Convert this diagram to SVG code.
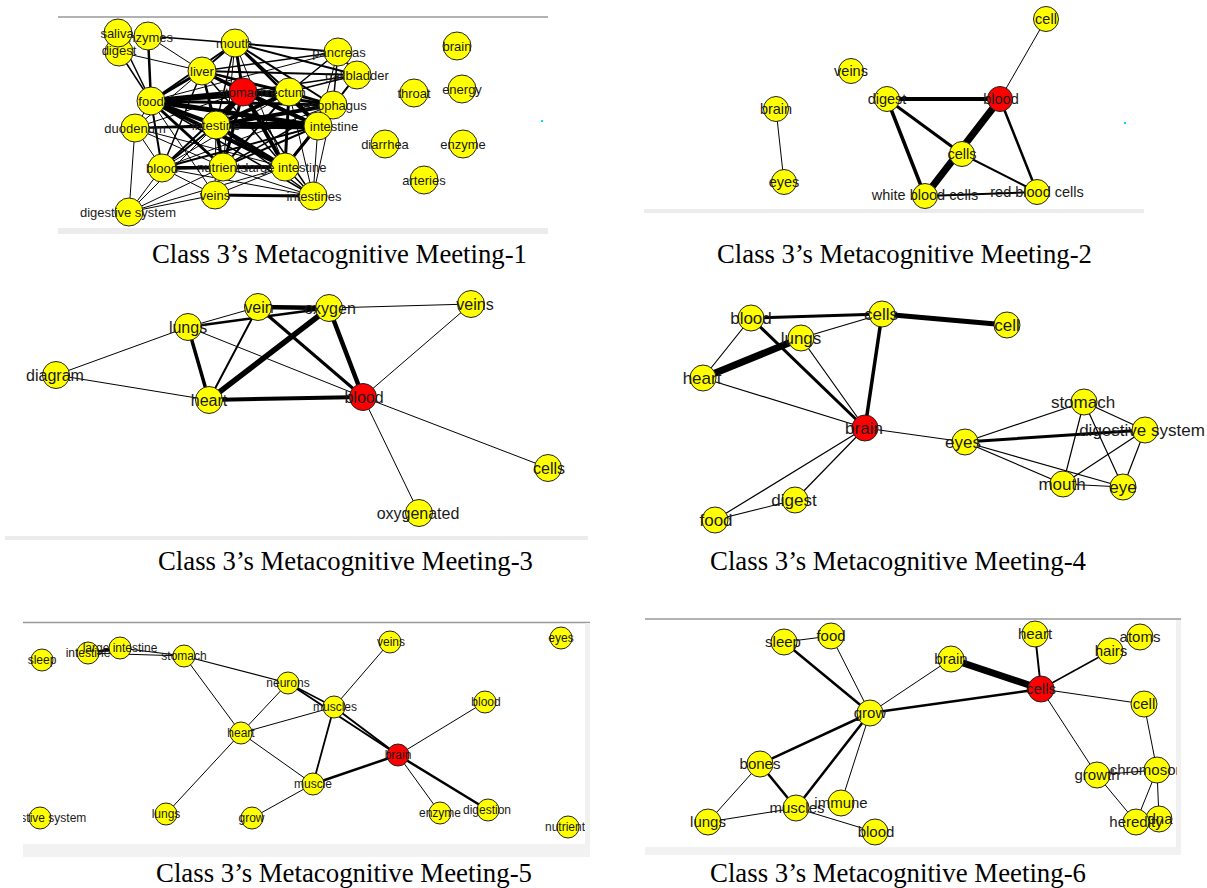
<svg xmlns="http://www.w3.org/2000/svg" width="1207" height="888" viewBox="0 0 1207 888">
<style>
.n{fill:#ffff00;stroke:#222;stroke-width:1}
.r{fill:#ff0000;stroke:#222;stroke-width:1}
.e line{stroke:#000;stroke-linecap:round}
text{font-family:"Liberation Sans",Arial,sans-serif;fill:#1a1a1a;text-anchor:middle}
.f1{font-size:13px}.f2{font-size:14.5px}.f3{font-size:16px}.f4{font-size:17px}.f5{font-size:12px}.f6{font-size:15px}
.cap{font-family:"Liberation Serif","Times New Roman",serif;font-size:26.5px;fill:#000;text-anchor:start}
.band{fill:#ececec}
.tl{stroke:#999;stroke-width:1.5}
</style>
<defs>
<clipPath id="c5"><rect x="23" y="610" width="562" height="250"/></clipPath>
<clipPath id="c6"><rect x="645" y="610" width="532" height="250"/></clipPath>
</defs>
<rect width="1207" height="888" fill="#fff"/>

<!-- frames -->
<g id="frames">
<line class="tl" x1="58" y1="17" x2="548" y2="17"/>
<rect class="band" x="58" y="228" width="490" height="6"/>
<rect class="band" x="644" y="209" width="500" height="4"/>
<rect class="band" x="5" y="536" width="583" height="4"/>
<line class="tl" x1="23" y1="622.5" x2="590" y2="622.5"/>
<rect fill="#f1f1f1" x="585" y="623" width="5" height="234"/>
<rect fill="#f2f2f2" x="23" y="844" width="567" height="13"/>
<line class="tl" x1="645" y1="619" x2="1181" y2="619" stroke="#aaa"/>
<rect fill="#f1f1f1" x="1176" y="620" width="5" height="235"/>
<rect fill="#f2f2f2" x="645" y="847" width="536" height="8"/>
<rect fill="#00e0ff" x="541" y="120" width="2" height="2"/>
<rect fill="#00e0ff" x="1124" y="122" width="2" height="2"/>
</g>

<!-- connectors -->
<g id="connectors" class="e">
<!-- panel 1 -->
<line x1="151" y1="101" x2="243" y2="92" stroke-width="5"/>
<line x1="151" y1="101" x2="289" y2="92" stroke-width="4"/>
<line x1="151" y1="101" x2="318" y2="126" stroke-width="5"/>
<line x1="243" y1="92" x2="318" y2="126" stroke-width="4"/>
<line x1="216" y1="125" x2="318" y2="126" stroke-width="7"/>
<line x1="216" y1="125" x2="333" y2="105" stroke-width="4"/>
<line x1="216" y1="125" x2="289" y2="92" stroke-width="4"/>
<line x1="202" y1="71" x2="318" y2="126" stroke-width="3"/>
<line x1="202" y1="71" x2="243" y2="92" stroke-width="3"/>
<line x1="151" y1="101" x2="216" y2="125" stroke-width="4"/>
<line x1="151" y1="101" x2="285" y2="167" stroke-width="4"/>
<line x1="151" y1="101" x2="223" y2="167" stroke-width="3"/>
<line x1="243" y1="92" x2="285" y2="167" stroke-width="4"/>
<line x1="243" y1="92" x2="223" y2="167" stroke-width="3"/>
<line x1="216" y1="125" x2="285" y2="167" stroke-width="4"/>
<line x1="216" y1="125" x2="223" y2="167" stroke-width="3"/>
<line x1="289" y1="92" x2="285" y2="167" stroke-width="3"/>
<line x1="235" y1="43" x2="243" y2="92" stroke-width="3"/>
<line x1="235" y1="43" x2="318" y2="126" stroke-width="2.5"/>
<line x1="202" y1="71" x2="151" y2="101" stroke-width="3"/>
<line x1="162" y1="168" x2="285" y2="167" stroke-width="3.5"/>
<line x1="162" y1="168" x2="223" y2="167" stroke-width="3"/>
<line x1="162" y1="168" x2="216" y2="125" stroke-width="2"/>
<line x1="162" y1="168" x2="243" y2="92" stroke-width="2"/>
<line x1="215" y1="195" x2="313" y2="196" stroke-width="3"/>
<line x1="151" y1="101" x2="333" y2="105" stroke-width="3"/>
<line x1="243" y1="92" x2="333" y2="105" stroke-width="3"/>
<line x1="151" y1="101" x2="162" y2="168" stroke-width="2"/>
<line x1="135" y1="128" x2="216" y2="125" stroke-width="2"/>
<line x1="135" y1="128" x2="318" y2="126" stroke-width="1.5"/>
<line x1="235" y1="43" x2="289" y2="92" stroke-width="2"/>
<line x1="235" y1="43" x2="338" y2="52" stroke-width="2"/>
<line x1="235" y1="43" x2="357" y2="75" stroke-width="2"/>
<line x1="235" y1="43" x2="333" y2="105" stroke-width="2"/>
<line x1="202" y1="71" x2="357" y2="75" stroke-width="2"/>
<line x1="202" y1="71" x2="338" y2="52" stroke-width="1.5"/>
<line x1="202" y1="71" x2="289" y2="92" stroke-width="2"/>
<line x1="202" y1="71" x2="333" y2="105" stroke-width="2"/>
<line x1="243" y1="92" x2="357" y2="75" stroke-width="1.5"/>
<line x1="289" y1="92" x2="338" y2="52" stroke-width="1.5"/>
<line x1="289" y1="92" x2="357" y2="75" stroke-width="1.5"/>
<line x1="289" y1="92" x2="333" y2="105" stroke-width="2"/>
<line x1="338" y1="52" x2="333" y2="105" stroke-width="1.5"/>
<line x1="357" y1="75" x2="333" y2="105" stroke-width="1.5"/>
<line x1="338" y1="52" x2="357" y2="75" stroke-width="2"/>
<line x1="285" y1="167" x2="318" y2="126" stroke-width="3"/>
<line x1="285" y1="167" x2="333" y2="105" stroke-width="2"/>
<line x1="223" y1="167" x2="318" y2="126" stroke-width="2"/>
<line x1="223" y1="167" x2="285" y2="167" stroke-width="3"/>
<line x1="216" y1="125" x2="243" y2="92" stroke-width="5"/>
<line x1="216" y1="125" x2="202" y2="71" stroke-width="2"/>
<line x1="216" y1="125" x2="235" y2="43" stroke-width="1.5"/>
<line x1="118" y1="33" x2="151" y2="101" stroke-width="1.5"/>
<line x1="119" y1="52" x2="151" y2="101" stroke-width="1.5"/>
<line x1="119" y1="52" x2="202" y2="71" stroke-width="1"/>
<line x1="148" y1="36" x2="151" y2="101" stroke-width="2.5"/>
<line x1="148" y1="36" x2="235" y2="43" stroke-width="1.5"/>
<line x1="148" y1="36" x2="202" y2="71" stroke-width="1"/>
<line x1="135" y1="128" x2="151" y2="101" stroke-width="1"/>
<line x1="135" y1="128" x2="162" y2="168" stroke-width="1"/>
<line x1="135" y1="128" x2="129" y2="212" stroke-width="1"/>
<line x1="135" y1="128" x2="202" y2="71" stroke-width="1"/>
<line x1="135" y1="128" x2="243" y2="92" stroke-width="1"/>
<line x1="135" y1="128" x2="223" y2="167" stroke-width="1"/>
<line x1="135" y1="128" x2="285" y2="167" stroke-width="1"/>
<line x1="162" y1="168" x2="215" y2="195" stroke-width="1"/>
<line x1="162" y1="168" x2="313" y2="196" stroke-width="1"/>
<line x1="162" y1="168" x2="129" y2="212" stroke-width="1"/>
<line x1="129" y1="212" x2="215" y2="195" stroke-width="1"/>
<line x1="129" y1="212" x2="223" y2="167" stroke-width="1"/>
<line x1="129" y1="212" x2="285" y2="167" stroke-width="1"/>
<line x1="129" y1="212" x2="216" y2="125" stroke-width="1"/>
<line x1="215" y1="195" x2="285" y2="167" stroke-width="1"/>
<line x1="215" y1="195" x2="223" y2="167" stroke-width="1"/>
<line x1="215" y1="195" x2="216" y2="125" stroke-width="1"/>
<line x1="215" y1="195" x2="243" y2="92" stroke-width="1"/>
<line x1="223" y1="167" x2="313" y2="196" stroke-width="1"/>
<line x1="285" y1="167" x2="313" y2="196" stroke-width="1.5"/>
<line x1="318" y1="126" x2="313" y2="196" stroke-width="1"/>
<line x1="216" y1="125" x2="313" y2="196" stroke-width="1.5"/>
<line x1="243" y1="92" x2="313" y2="196" stroke-width="1.5"/>
<line x1="333" y1="105" x2="313" y2="196" stroke-width="1"/>
<line x1="289" y1="92" x2="313" y2="196" stroke-width="1"/>
<line x1="151" y1="101" x2="313" y2="196" stroke-width="1.5"/>
<line x1="151" y1="101" x2="215" y2="195" stroke-width="1"/>
<line x1="151" y1="101" x2="235" y2="43" stroke-width="2"/>
<line x1="202" y1="71" x2="235" y2="43" stroke-width="2"/>
<line x1="202" y1="71" x2="162" y2="168" stroke-width="1.5"/>
<line x1="202" y1="71" x2="223" y2="167" stroke-width="1.5"/>
<line x1="202" y1="71" x2="285" y2="167" stroke-width="1.5"/>
<line x1="235" y1="43" x2="285" y2="167" stroke-width="1"/>
<line x1="235" y1="43" x2="223" y2="167" stroke-width="1"/>
<line x1="162" y1="168" x2="289" y2="92" stroke-width="1"/>
<line x1="162" y1="168" x2="333" y2="105" stroke-width="1"/>
<line x1="338" y1="52" x2="318" y2="126" stroke-width="1"/>
<line x1="357" y1="75" x2="318" y2="126" stroke-width="1.5"/>
<line x1="338" y1="52" x2="151" y2="101" stroke-width="1"/>
<line x1="243" y1="92" x2="289" y2="92" stroke-width="3"/>
<line x1="289" y1="92" x2="318" y2="126" stroke-width="3"/>
<line x1="162" y1="168" x2="318" y2="126" stroke-width="2"/>
<line x1="223" y1="167" x2="289" y2="92" stroke-width="2"/>
<line x1="223" y1="167" x2="333" y2="105" stroke-width="1.5"/>
<!-- panel 2 -->
<line x1="776" y1="109" x2="784" y2="182" stroke-width="1"/>
<line x1="1046" y1="19" x2="1000" y2="99" stroke-width="1"/>
<line x1="887" y1="99" x2="1000" y2="99" stroke-width="4"/>
<line x1="887" y1="99" x2="962" y2="154" stroke-width="3"/>
<line x1="887" y1="99" x2="925" y2="196" stroke-width="3.5"/>
<line x1="1000" y1="99" x2="925" y2="196" stroke-width="7"/>
<line x1="1000" y1="99" x2="1037" y2="192" stroke-width="2.5"/>
<line x1="962" y1="154" x2="1037" y2="192" stroke-width="2"/>
<line x1="925" y1="196" x2="1037" y2="192" stroke-width="2"/>
<!-- panel 3 -->
<line x1="258" y1="307" x2="329" y2="308" stroke-width="4.5"/>
<line x1="188" y1="327" x2="258" y2="307" stroke-width="1"/>
<line x1="188" y1="327" x2="329" y2="308" stroke-width="2.5"/>
<line x1="188" y1="327" x2="209" y2="400" stroke-width="3.5"/>
<line x1="188" y1="327" x2="56" y2="375" stroke-width="1"/>
<line x1="188" y1="327" x2="363" y2="397" stroke-width="1"/>
<line x1="258" y1="307" x2="209" y2="400" stroke-width="2"/>
<line x1="258" y1="307" x2="363" y2="397" stroke-width="3"/>
<line x1="329" y1="308" x2="209" y2="400" stroke-width="5.5"/>
<line x1="329" y1="308" x2="363" y2="397" stroke-width="4.5"/>
<line x1="329" y1="308" x2="471" y2="304" stroke-width="1"/>
<line x1="471" y1="304" x2="363" y2="397" stroke-width="1"/>
<line x1="56" y1="375" x2="209" y2="400" stroke-width="1"/>
<line x1="209" y1="400" x2="363" y2="397" stroke-width="4"/>
<line x1="363" y1="397" x2="548" y2="468" stroke-width="1"/>
<line x1="363" y1="397" x2="419" y2="513" stroke-width="1"/>
<!-- panel 4 -->
<line x1="751" y1="318" x2="882" y2="314" stroke-width="3"/>
<line x1="882" y1="314" x2="1007" y2="325" stroke-width="5"/>
<line x1="801" y1="338" x2="882" y2="314" stroke-width="1.2"/>
<line x1="751" y1="318" x2="703" y2="378" stroke-width="1.2"/>
<line x1="703" y1="378" x2="801" y2="338" stroke-width="7"/>
<line x1="751" y1="318" x2="865" y2="428" stroke-width="3"/>
<line x1="801" y1="338" x2="865" y2="428" stroke-width="1.2"/>
<line x1="882" y1="314" x2="865" y2="428" stroke-width="3.5"/>
<line x1="703" y1="378" x2="865" y2="428" stroke-width="1.2"/>
<line x1="865" y1="428" x2="965" y2="442" stroke-width="1.2"/>
<line x1="865" y1="428" x2="715" y2="520" stroke-width="1.2"/>
<line x1="865" y1="428" x2="795" y2="500" stroke-width="1.2"/>
<line x1="715" y1="520" x2="795" y2="500" stroke-width="1.2"/>
<line x1="965" y1="442" x2="1084" y2="402" stroke-width="1.2"/>
<line x1="965" y1="442" x2="1145" y2="430" stroke-width="3"/>
<line x1="965" y1="442" x2="1063" y2="484" stroke-width="1.2"/>
<line x1="965" y1="442" x2="1123" y2="487" stroke-width="1.2"/>
<line x1="1084" y1="402" x2="1145" y2="430" stroke-width="1.2"/>
<line x1="1084" y1="402" x2="1063" y2="484" stroke-width="1.2"/>
<line x1="1084" y1="402" x2="1123" y2="487" stroke-width="1.2"/>
<line x1="1145" y1="430" x2="1063" y2="484" stroke-width="1.2"/>
<line x1="1145" y1="430" x2="1123" y2="487" stroke-width="1.2"/>
<line x1="1063" y1="484" x2="1123" y2="487" stroke-width="1.2"/>
<!-- panel 5 -->
<line x1="88" y1="653" x2="120" y2="648" stroke-width="2.5"/>
<line x1="88" y1="653" x2="184" y2="656" stroke-width="1"/>
<line x1="120" y1="648" x2="184" y2="656" stroke-width="1.2"/>
<line x1="184" y1="656" x2="288" y2="683" stroke-width="1.2"/>
<line x1="184" y1="656" x2="241" y2="733" stroke-width="1"/>
<line x1="288" y1="683" x2="241" y2="733" stroke-width="1"/>
<line x1="288" y1="683" x2="334" y2="707" stroke-width="1.5"/>
<line x1="288" y1="683" x2="398" y2="755" stroke-width="2"/>
<line x1="334" y1="707" x2="398" y2="755" stroke-width="2"/>
<line x1="241" y1="733" x2="334" y2="707" stroke-width="1"/>
<line x1="241" y1="733" x2="313" y2="784" stroke-width="1"/>
<line x1="241" y1="733" x2="166" y2="814" stroke-width="1"/>
<line x1="390" y1="642" x2="334" y2="707" stroke-width="1"/>
<line x1="334" y1="707" x2="313" y2="784" stroke-width="1.8"/>
<line x1="313" y1="784" x2="398" y2="755" stroke-width="2.5"/>
<line x1="313" y1="784" x2="252" y2="818" stroke-width="1"/>
<line x1="398" y1="755" x2="485" y2="702" stroke-width="1"/>
<line x1="398" y1="755" x2="440" y2="813" stroke-width="1"/>
<line x1="398" y1="755" x2="488" y2="810" stroke-width="2.5"/>
<!-- panel 6 -->
<line x1="784" y1="642" x2="831" y2="636" stroke-width="1"/>
<line x1="784" y1="642" x2="870" y2="713" stroke-width="2.5"/>
<line x1="831" y1="636" x2="870" y2="713" stroke-width="1"/>
<line x1="951" y1="659" x2="870" y2="713" stroke-width="1"/>
<line x1="951" y1="659" x2="1041" y2="689" stroke-width="7"/>
<line x1="1035" y1="634" x2="1041" y2="689" stroke-width="2"/>
<line x1="1110" y1="651" x2="1041" y2="689" stroke-width="1.5"/>
<line x1="1041" y1="689" x2="1144" y2="704" stroke-width="1"/>
<line x1="1041" y1="689" x2="870" y2="713" stroke-width="2.5"/>
<line x1="1041" y1="689" x2="1097" y2="775" stroke-width="1"/>
<line x1="1144" y1="704" x2="1157" y2="770" stroke-width="1"/>
<line x1="1097" y1="775" x2="1157" y2="770" stroke-width="1.2"/>
<line x1="1097" y1="775" x2="1136" y2="822" stroke-width="1"/>
<line x1="1157" y1="770" x2="1136" y2="822" stroke-width="1"/>
<line x1="1157" y1="770" x2="1159" y2="819" stroke-width="1"/>
<line x1="870" y1="713" x2="760" y2="764" stroke-width="2.5"/>
<line x1="870" y1="713" x2="796" y2="808" stroke-width="2.5"/>
<line x1="870" y1="713" x2="841" y2="803" stroke-width="1"/>
<line x1="760" y1="764" x2="796" y2="808" stroke-width="2.5"/>
<line x1="760" y1="764" x2="708" y2="822" stroke-width="1"/>
<line x1="708" y1="822" x2="796" y2="808" stroke-width="1"/>
<line x1="796" y1="808" x2="875" y2="832" stroke-width="1"/>
</g>

<!-- panel 1 nodes -->
<g id="p1" class="f1">
<g id="p1-enzymes"><circle class="n" cx="148" cy="36" r="14"/><text x="147" y="41.5">enzymes</text></g>
<g id="p1-digest"><circle class="n" cx="119" cy="52" r="14"/><text x="119" y="55">digest</text></g>
<g id="p1-saliva"><circle class="n" cx="118" cy="33" r="14"/><text x="117" y="37.5">saliva</text></g>
<g id="p1-mouth"><circle class="n" cx="235" cy="43" r="14"/><text x="234" y="47.5">mouth</text></g>
<g id="p1-pancreas"><circle class="n" cx="338" cy="52" r="14"/><text x="339" y="56.5">pancreas</text></g>
<g id="p1-gallbladder"><circle class="n" cx="357" cy="75" r="14"/><text x="357" y="79.5">gallbladder</text></g>
<g id="p1-liver"><circle class="n" cx="202" cy="71" r="14"/><text x="202" y="75.5">liver</text></g>
<g id="p1-food"><circle class="n" cx="151" cy="101" r="14"/><text x="151" y="105.5">food</text></g>
<g id="p1-stomach"><circle class="r" cx="243" cy="92" r="14"/><text x="243" y="96.5">stomach</text></g>
<g id="p1-rectum"><circle class="n" cx="289" cy="92" r="14"/><text x="286" y="96.5">rectum</text></g>
<g id="p1-esophagus"><circle class="n" cx="333" cy="105" r="14"/><text x="335" y="109.5">esophagus</text></g>
<g id="p1-intestine-r"><circle class="n" cx="318" cy="126" r="14"/><text x="334" y="130.5">intestine</text></g>
<g id="p1-duodenum"><circle class="n" cx="135" cy="128" r="14"/><text x="135" y="132.5">duodenum</text></g>
<g id="p1-intestine-c"><circle class="n" cx="216" cy="125" r="14"/><text x="216" y="129.5">intestine</text></g>
<g id="p1-blood"><circle class="n" cx="162" cy="168" r="14"/><text x="162" y="172.5">blood</text></g>
<g id="p1-nutrients"><circle class="n" cx="223" cy="167" r="14"/><text x="222" y="171.5">nutrients</text></g>
<g id="p1-large-intestine"><circle class="n" cx="285" cy="167" r="14"/><text x="286" y="171.5">large intestine</text></g>
<g id="p1-veins"><circle class="n" cx="215" cy="195" r="14"/><text x="215" y="199.5">veins</text></g>
<g id="p1-intestines"><circle class="n" cx="313" cy="196" r="14"/><text x="314" y="200.5">intestines</text></g>
<g id="p1-digestive-system"><circle class="n" cx="129" cy="212" r="14"/><text x="128" y="216.5">digestive system</text></g>
<g id="p1-brain"><circle class="n" cx="457" cy="46" r="14"/><text x="457" y="50.5">brain</text></g>
<g id="p1-throat"><circle class="n" cx="414" cy="93" r="14"/><text x="414" y="97.5">throat</text></g>
<g id="p1-energy"><circle class="n" cx="462" cy="89" r="14"/><text x="462" y="93.5">energy</text></g>
<g id="p1-diarrhea"><circle class="n" cx="385" cy="144" r="14"/><text x="385" y="148.5">diarrhea</text></g>
<g id="p1-enzyme"><circle class="n" cx="463" cy="144" r="14"/><text x="463" y="148.5">enzyme</text></g>
<g id="p1-arteries"><circle class="n" cx="424" cy="180" r="14"/><text x="424" y="184.5">arteries</text></g>
</g>

<!-- panel 2 nodes -->
<g id="p2" class="f2">
<g id="p2-cell"><circle class="n" cx="1046" cy="19" r="12.5"/><text x="1046" y="24">cell</text></g>
<g id="p2-veins"><circle class="n" cx="851" cy="71" r="12.5"/><text x="851" y="76">veins</text></g>
<g id="p2-digest"><circle class="n" cx="887" cy="99" r="12.5"/><text x="887" y="104">digest</text></g>
<g id="p2-blood"><circle class="r" cx="1000" cy="99" r="12.5"/><text x="1001" y="104">blood</text></g>
<g id="p2-brain"><circle class="n" cx="776" cy="109" r="12.5"/><text x="776" y="114">brain</text></g>
<g id="p2-cells"><circle class="n" cx="962" cy="154" r="12.5"/><text x="962" y="159">cells</text></g>
<g id="p2-eyes"><circle class="n" cx="784" cy="182" r="12.5"/><text x="784" y="187">eyes</text></g>
<g id="p2-white-blood-cells"><circle class="n" cx="925" cy="196" r="12.5"/><text x="925" y="200">white blood cells</text></g>
<g id="p2-red-blood-cells"><circle class="n" cx="1037" cy="192" r="12.5"/><text x="1037" y="197">red blood cells</text></g>
</g>

<!-- panel 3 nodes -->
<g id="p3" class="f3">
<g id="p3-lungs"><circle class="n" cx="188" cy="327" r="13.5"/><text x="188" y="332.5">lungs</text></g>
<g id="p3-vein"><circle class="n" cx="258" cy="307" r="13.5"/><text x="259" y="312.5">vein</text></g>
<g id="p3-oxygen"><circle class="n" cx="329" cy="308" r="13.5"/><text x="330" y="313.5">oxygen</text></g>
<g id="p3-veins"><circle class="n" cx="471" cy="304" r="13.5"/><text x="475" y="309.5">veins</text></g>
<g id="p3-diagram"><circle class="n" cx="56" cy="375" r="13.5"/><text x="55" y="380.5">diagram</text></g>
<g id="p3-heart"><circle class="n" cx="209" cy="400" r="13.5"/><text x="209" y="405.5">heart</text></g>
<g id="p3-blood"><circle class="r" cx="363" cy="397" r="13.5"/><text x="364" y="402.5">blood</text></g>
<g id="p3-cells"><circle class="n" cx="548" cy="468" r="13.5"/><text x="549" y="473.5">cells</text></g>
<g id="p3-oxygenated"><circle class="n" cx="419" cy="513" r="13.5"/><text x="418" y="518.5">oxygenated</text></g>
</g>

<!-- panel 4 nodes -->
<g id="p4" class="f4">
<g id="p4-blood"><circle class="n" cx="751" cy="318" r="13"/><text x="751" y="324">blood</text></g>
<g id="p4-cells"><circle class="n" cx="882" cy="314" r="13"/><text x="881" y="320">cells</text></g>
<g id="p4-cell"><circle class="n" cx="1007" cy="325" r="13"/><text x="1007" y="331">cell</text></g>
<g id="p4-lungs"><circle class="n" cx="801" cy="338" r="13"/><text x="801" y="344">lungs</text></g>
<g id="p4-heart"><circle class="n" cx="703" cy="378" r="13"/><text x="702" y="384">heart</text></g>
<g id="p4-brain"><circle class="r" cx="865" cy="428" r="13"/><text x="864" y="434">brain</text></g>
<g id="p4-eyes"><circle class="n" cx="965" cy="442" r="13"/><text x="963" y="448">eyes</text></g>
<g id="p4-stomach"><circle class="n" cx="1084" cy="402" r="13"/><text x="1083" y="408">stomach</text></g>
<g id="p4-digestive-system"><circle class="n" cx="1145" cy="430" r="13"/><text x="1142" y="436">digestive system</text></g>
<g id="p4-mouth"><circle class="n" cx="1063" cy="484" r="13"/><text x="1062" y="490">mouth</text></g>
<g id="p4-eye"><circle class="n" cx="1123" cy="487" r="13"/><text x="1123" y="493">eye</text></g>
<g id="p4-digest"><circle class="n" cx="795" cy="500" r="13"/><text x="794" y="506">digest</text></g>
<g id="p4-food"><circle class="n" cx="715" cy="520" r="13"/><text x="716" y="526">food</text></g>
</g>

<!-- panel 5 nodes -->
<g id="p5" class="f5" clip-path="url(#c5)">
<g id="p5-sleep"><circle class="n" cx="42" cy="660" r="11"/><text x="42" y="664">sleep</text></g>
<g id="p5-intestine"><circle class="n" cx="88" cy="653" r="11"/><text x="88" y="657">intestine</text></g>
<g id="p5-large-intestine"><circle class="n" cx="120" cy="648" r="11"/><text x="120" y="652">large intestine</text></g>
<g id="p5-stomach"><circle class="n" cx="184" cy="656" r="11"/><text x="184" y="660">stomach</text></g>
<g id="p5-veins"><circle class="n" cx="390" cy="642" r="11"/><text x="391" y="646">veins</text></g>
<g id="p5-eyes"><circle class="n" cx="561" cy="638" r="11"/><text x="561" y="642">eyes</text></g>
<g id="p5-neurons"><circle class="n" cx="288" cy="683" r="11"/><text x="288" y="687">neurons</text></g>
<g id="p5-muscles"><circle class="n" cx="334" cy="707" r="11"/><text x="335" y="711">muscles</text></g>
<g id="p5-blood"><circle class="n" cx="485" cy="702" r="11"/><text x="486" y="706">blood</text></g>
<g id="p5-heart"><circle class="n" cx="241" cy="733" r="11"/><text x="241" y="737">heart</text></g>
<g id="p5-brain"><circle class="r" cx="398" cy="755" r="11"/><text x="398" y="759">brain</text></g>
<g id="p5-muscle"><circle class="n" cx="313" cy="784" r="11"/><text x="313" y="788">muscle</text></g>
<g id="p5-lungs"><circle class="n" cx="166" cy="814" r="11"/><text x="166" y="818">lungs</text></g>
<g id="p5-grow"><circle class="n" cx="252" cy="818" r="11"/><text x="251.5" y="822">grow</text></g>
<g id="p5-enzyme"><circle class="n" cx="440" cy="813" r="11"/><text x="440" y="817">enzyme</text></g>
<g id="p5-digestion"><circle class="n" cx="488" cy="810" r="11"/><text x="487" y="814">digestion</text></g>
<g id="p5-digestive-system"><circle class="n" cx="40" cy="818" r="11"/><text x="42" y="822">digestive system</text></g>
<g id="p5-nutrients"><circle class="n" cx="568" cy="827" r="11"/><text x="568" y="831">nutrients</text></g>
</g>

<!-- panel 6 nodes -->
<g id="p6" class="f6" clip-path="url(#c6)">
<g id="p6-sleep"><circle class="n" cx="784" cy="642" r="13"/><text x="783" y="647">sleep</text></g>
<g id="p6-food"><circle class="n" cx="831" cy="636" r="13"/><text x="831" y="641">food</text></g>
<g id="p6-heart"><circle class="n" cx="1035" cy="634" r="13"/><text x="1035" y="639">heart</text></g>
<g id="p6-hairs"><circle class="n" cx="1110" cy="651" r="13"/><text x="1111" y="656">hairs</text></g>
<g id="p6-atoms"><circle class="n" cx="1140" cy="637" r="13"/><text x="1140" y="642">atoms</text></g>
<g id="p6-brain"><circle class="n" cx="951" cy="659" r="13"/><text x="951" y="664">brain</text></g>
<g id="p6-cells"><circle class="r" cx="1041" cy="689" r="13"/><text x="1041" y="694" fill="#2a2aff">cells</text></g>
<g id="p6-cell"><circle class="n" cx="1144" cy="704" r="13"/><text x="1144" y="709">cell</text></g>
<g id="p6-grow"><circle class="n" cx="870" cy="713" r="13"/><text x="870" y="718">grow</text></g>
<g id="p6-bones"><circle class="n" cx="760" cy="764" r="13"/><text x="760" y="769">bones</text></g>
<g id="p6-growth"><circle class="n" cx="1097" cy="775" r="13"/><text x="1097" y="780">growth</text></g>
<g id="p6-chromosome"><circle class="n" cx="1157" cy="770" r="13"/><text x="1153" y="775">chromosome</text></g>
<g id="p6-immune"><circle class="n" cx="841" cy="803" r="13"/><text x="841" y="808">immune</text></g>
<g id="p6-muscles"><circle class="n" cx="796" cy="808" r="13"/><text x="797" y="813">muscles</text></g>
<g id="p6-lungs"><circle class="n" cx="708" cy="822" r="13"/><text x="708" y="827">lungs</text></g>
<g id="p6-blood"><circle class="n" cx="875" cy="832" r="13"/><text x="876" y="837">blood</text></g>
<g id="p6-dna"><circle class="n" cx="1159" cy="819" r="13"/><text x="1160" y="824">dna</text></g>
<g id="p6-heredity"><circle class="n" cx="1136" cy="822" r="13"/><text x="1136" y="827">heredity</text></g>
</g>

<!-- captions -->
<g id="captions">
<text class="cap" x="152" y="263" textLength="375" lengthAdjust="spacingAndGlyphs">Class 3’s Metacognitive Meeting-1</text>
<text class="cap" x="717" y="263" textLength="375" lengthAdjust="spacingAndGlyphs">Class 3’s Metacognitive Meeting-2</text>
<text class="cap" x="158" y="570" textLength="375" lengthAdjust="spacingAndGlyphs">Class 3’s Metacognitive Meeting-3</text>
<text class="cap" x="710" y="570" textLength="376" lengthAdjust="spacingAndGlyphs">Class 3’s Metacognitive Meeting-4</text>
<text class="cap" x="156" y="882" textLength="376" lengthAdjust="spacingAndGlyphs">Class 3’s Metacognitive Meeting-5</text>
<text class="cap" x="710" y="882" textLength="376" lengthAdjust="spacingAndGlyphs">Class 3’s Metacognitive Meeting-6</text>
</g>
</svg>
